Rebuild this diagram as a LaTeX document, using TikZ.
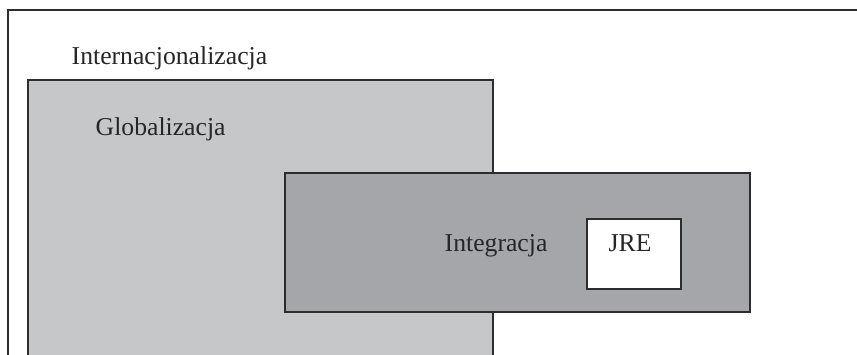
\documentclass[tikz,border=0pt]{standalone}
\usepackage{fontspec}
\setmainfont{Liberation Serif}

\definecolor{globalgray}{RGB}{198,199,201}
\definecolor{integgray}{RGB}{165,166,170}
\definecolor{edgegray}{RGB}{45,45,45}

\begin{document}
\begin{tikzpicture}[x = 1pt, y = -1pt, line width = 1.4pt,
	label text/.style = {anchor = base west, inner sep = 0pt, font = \fontsize{25.7}{30}\selectfont, text = black!85}]

	% Frame of the page
	
	\clip (0, 0) rectangle (857, 355);
	
	% Nested areas
	
	\draw [draw = edgegray] (8, 10) rectangle (900, 400);
	\filldraw [fill = globalgray, draw = edgegray] (28, 80) rectangle (493, 400);
	\filldraw [fill = integgray, draw = edgegray] (285, 173) rectangle (750, 312);
	\filldraw [fill = white, draw = edgegray] (587, 219) rectangle (681, 289);
	
	% Labels
	
	\node (intern) [label text] at (71, 65) {Internacjonalizacja};
	\node (global) [label text] at (95, 136) {Globalizacja};
	\node (integ) [label text] at (444, 252) {Integracja};
	\node (jre) [label text] at (608, 252) {JRE};
	
\end{tikzpicture}
\end{document}
